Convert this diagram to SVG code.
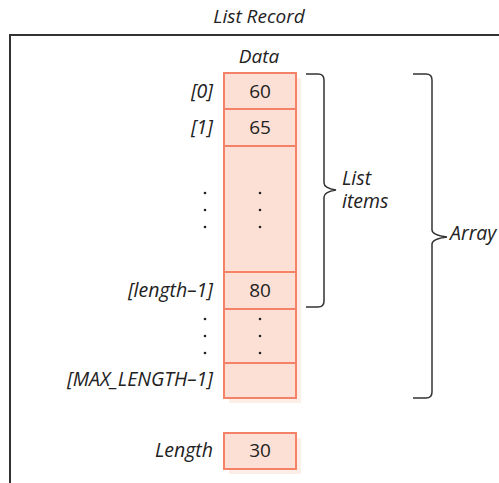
<svg xmlns="http://www.w3.org/2000/svg" width="499" height="483" viewBox="0 0 499 483">
<style>
.t{font-family:"Open Sans","Noto Sans",sans-serif;font-size:19.5px;fill:#222;font-style:italic}
.n{font-family:"Open Sans","Noto Sans",sans-serif;font-size:19px;fill:#222;text-anchor:middle}
.r{text-anchor:end}
.cell{fill:#fde0d5;stroke:#f58166;stroke-width:2}
.sh{fill:#fdeee8}
.br{fill:none;stroke:#333;stroke-width:1.5}
.dot{fill:#222}
</style>
<rect width="499" height="483" fill="#fff"/>
<g id="record">
<path d="M10 483 V35 H499" fill="none" stroke="#333" stroke-width="2"/>
<text class="n" x="259" y="23" style="font-style:italic">List Record</text>
</g>
<g id="data">
<text class="n" x="259" y="63" style="font-style:italic">Data</text>
<rect class="sh" x="229" y="78" width="72" height="325"/>
<rect class="cell" x="224" y="73" width="72" height="36"/>
<rect class="cell" x="224" y="109" width="72" height="37"/>
<rect class="cell" x="224" y="146" width="72" height="126"/>
<rect class="cell" x="224" y="272" width="72" height="37"/>
<rect class="cell" x="224" y="309" width="72" height="54"/>
<rect class="cell" x="224" y="363" width="72" height="35"/>
<text class="n" x="260" y="98">60</text>
<text class="n" x="260" y="134">65</text>
<text class="n" x="260" y="297">80</text>
<text class="t r" x="213" y="98">[0]</text>
<text class="t r" x="213" y="134">[1]</text>
<text class="t r" x="213" y="297">[length–1]</text>
<text class="t r" x="213" y="386">[MAX_LENGTH–1]</text>
<circle class="dot" cx="205" cy="193" r="1.3"/><circle class="dot" cx="205" cy="210" r="1.3"/><circle class="dot" cx="205" cy="227" r="1.3"/>
<circle class="dot" cx="260" cy="193" r="1.3"/><circle class="dot" cx="260" cy="210" r="1.3"/><circle class="dot" cx="260" cy="227" r="1.3"/>
<circle class="dot" cx="205" cy="319" r="1.3"/><circle class="dot" cx="205" cy="336" r="1.3"/><circle class="dot" cx="205" cy="353" r="1.3"/>
<circle class="dot" cx="260" cy="319" r="1.3"/><circle class="dot" cx="260" cy="336" r="1.3"/><circle class="dot" cx="260" cy="353" r="1.3"/>
</g>
<g id="length">
<rect class="sh" x="229" y="438" width="72" height="36"/>
<rect class="cell" x="224" y="433" width="72" height="36"/>
<text class="n" x="260" y="457">30</text>
<text class="t r" x="213" y="457">Length</text>
</g>
<g id="connectors">
<path class="br" d="M306 74 H318 Q324 74 324 80 V183 Q324 188 336 190 Q324 192 324 197 V301 Q324 307 318 307 H306"/>
<path class="br" d="M413 74 H426 Q432 74 432 80 V230 Q432 235 447 237 Q432 239 432 244 V392 Q432 398 426 398 H413"/>
</g>
<g id="labels">
<text class="t" x="342" y="185">List</text>
<text class="t" x="342" y="208">items</text>
<text class="t" x="450" y="240">Array</text>
</g>
</svg>
